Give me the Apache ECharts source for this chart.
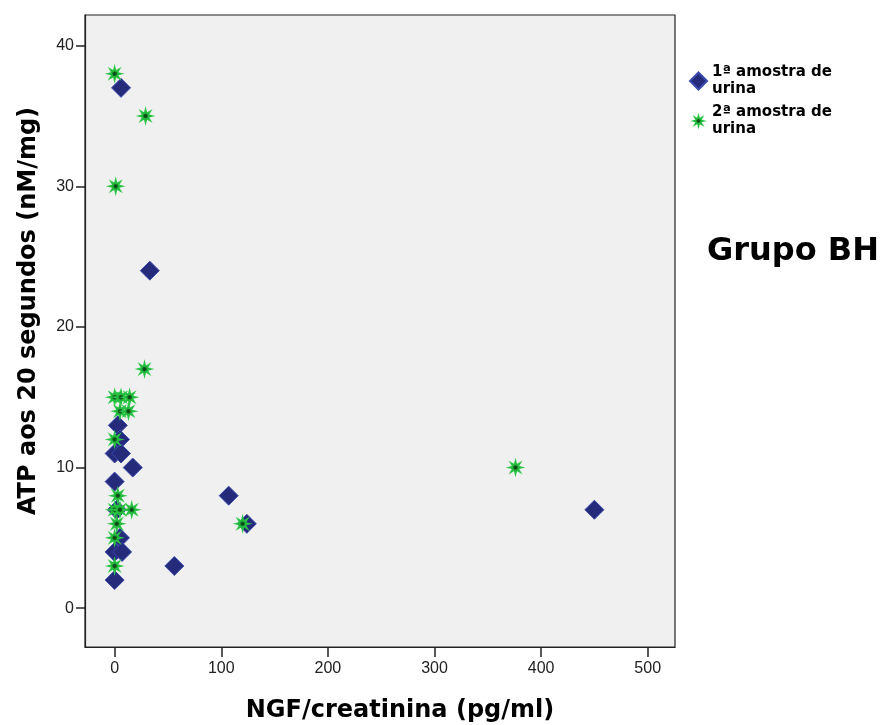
<!DOCTYPE html>
<html>
<head>
<meta charset="utf-8">
<script src="https://cdn.jsdelivr.net/npm/echarts@6/dist/echarts.min.js"></script>
<style>
  html, body { margin: 0; padding: 0; background: #ffffff; }
  #chart { width: 886px; height: 725px; }
</style>
</head>
<body>
<div id="chart"></div>
<script>
// ---- data ----
const xTicks = [0, 100, 200, 300, 400, 500];
const yTicks = [0, 10, 20, 30, 40];

const seriesNames = ['1ª amostra de\nurina', '2ª amostra de\nurina'];

// 1ª amostra de urina (NGF/creatinina, ATP)
const amostra1X = [6, 33, 3, 5, 0, 6, 17, 0, 107, 450, 2, 124, 5, 0, 7, 56, 0];
const amostra1Y = [37, 24, 13, 12, 11, 11, 10, 9, 8, 7, 7, 6, 5, 4, 4, 3, 2];

// 2ª amostra de urina
const amostra2X = [0, 29, 1, 28, 0, 6, 14, 5, 13, 0, 376, 3, 0, 5, 16, 2, 120, 0, 0];
const amostra2Y = [38, 35, 30, 17, 15, 15, 15, 14, 14, 12, 10, 8, 7, 7, 7, 6, 6, 5, 3];

const xTitle = 'NGF/creatinina (pg/ml)';
const yTitle = 'ATP aos 20 segundos (nM/mg)';
const groupLabel = 'Grupo BH';

// ---- helpers ----
function pairs(xs, ys) { return xs.map((x, i) => [x, ys[i]]); }

function starPath(n, R, r) {
  let d = '';
  for (let i = 0; i < 2 * n; i++) {
    const a = -Math.PI / 2 + i * Math.PI / n;
    const rad = (i % 2) ? r : R;
    const x = R + rad * Math.cos(a);
    const y = R + rad * Math.sin(a);
    d += (i ? 'L' : 'M') + x.toFixed(3) + ' ' + y.toFixed(3);
  }
  return 'path://' + d + 'Z';
}

const starSymbol = starPath(8, 10, 4.0);
const starFill = {
  type: 'radial', x: 0.5, y: 0.5, r: 0.5,
  colorStops: [
    { offset: 0, color: '#0a3f14' },
    { offset: 0.16, color: '#0e5a1b' },
    { offset: 0.28, color: '#22b83b' },
    { offset: 1, color: '#34d24f' }
  ]
};

const tickFont = '"Liberation Sans Narrow", "Liberation Sans", Arial, sans-serif';
const boldFont = '"DejaVu Sans", "Liberation Sans", sans-serif';

const chart = echarts.init(document.getElementById('chart'), null, { renderer: 'canvas' });

chart.setOption({
  backgroundColor: '#ffffff',
  animation: false,
  grid: {
    left: 85, right: 211, top: 15, bottom: 78,
    outerBoundsMode: 'none',
    containLabel: false,
    show: true,
    backgroundColor: '#f0f0f0',
    borderColor: '#222222',
    borderWidth: 1.2
  },
  legend: {
    orient: 'vertical',
    left: 684, top: 59,
    itemWidth: 17, itemHeight: 17,
    itemGap: 6,
    selectedMode: false,
    data: seriesNames,
    textStyle: {
      fontFamily: boldFont, fontWeight: 'bold', fontSize: 15,
      color: '#000000', lineHeight: 17
    }
  },
  graphic: [{
    type: 'text',
    left: 707, top: 236,
    style: {
      text: groupLabel,
      font: 'bold 32px "DejaVu Sans", sans-serif',
      fill: '#000000'
    }
  }],
  xAxis: {
    type: 'value',
    min: -27.8, max: 525.6,
    name: xTitle,
    nameLocation: 'middle',
    nameGap: 52,
    nameTextStyle: {
      fontFamily: boldFont, fontWeight: 'bold', fontSize: 24, color: '#000',
      padding: [0, 0, 0, 40]
    },
    axisLine: { show: true, onZero: false, lineStyle: { color: '#222', width: 1.2 } },
    axisTick: { show: true, customValues: xTicks, length: 10, inside: false,
                lineStyle: { color: '#222', width: 1.5 } },
    axisLabel: { customValues: xTicks, margin: 14, fontFamily: tickFont,
                 fontSize: 16, color: '#222' },
    splitLine: { show: false }
  },
  yAxis: {
    type: 'value',
    min: -2.76, max: 42.18,
    name: yTitle,
    nameLocation: 'middle',
    nameGap: 44,
    nameRotate: 90,
    nameTextStyle: {
      fontFamily: boldFont, fontWeight: 'bold', fontSize: 24, color: '#000',
      padding: [0, 0, 0, 40]
    },
    axisLine: { show: true, onZero: false, lineStyle: { color: '#222', width: 1.2 } },
    axisTick: { show: true, customValues: yTicks, length: 9, inside: false,
                lineStyle: { color: '#222', width: 1.5 } },
    axisLabel: { customValues: yTicks, margin: 11, fontFamily: tickFont,
                 fontSize: 16, color: '#222' },
    splitLine: { show: false }
  },
  series: [
    {
      name: seriesNames[0],
      type: 'scatter',
      symbol: 'diamond',
      symbolSize: 19,
      itemStyle: { color: '#262a7a', borderColor: '#3a49ad', borderWidth: 1, opacity: 1 },
      data: pairs(amostra1X, amostra1Y),
      z: 2
    },
    {
      name: seriesNames[1],
      type: 'scatter',
      symbol: starSymbol,
      symbolSize: 20,
      itemStyle: { color: starFill, opacity: 1 },
      data: pairs(amostra2X, amostra2Y),
      z: 3
    }
  ]
});
</script>
</body>
</html>
